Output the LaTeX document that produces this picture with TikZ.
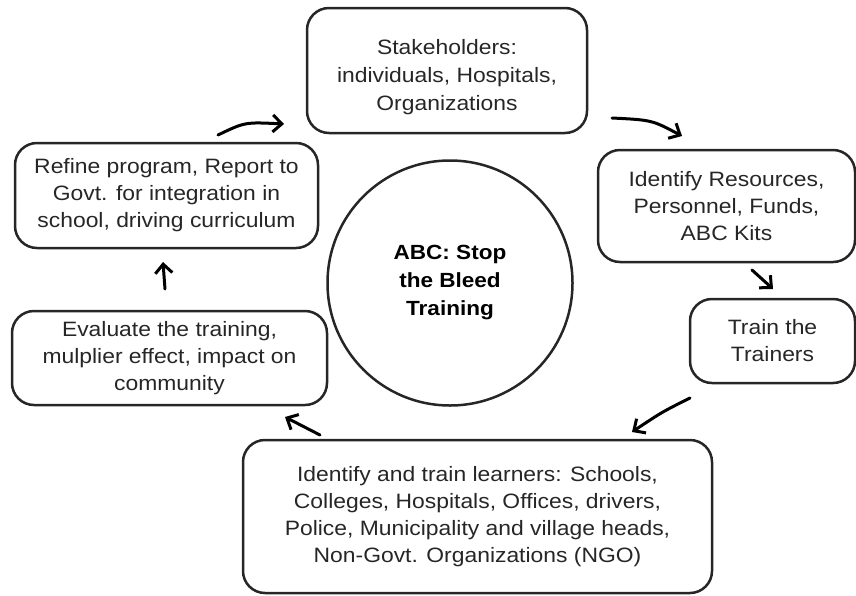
\documentclass[tikz,border=0pt]{standalone}
\usepackage{fontspec}
\setmainfont{Liberation Sans}[FakeStretch=1.1]
\usetikzlibrary{arrows.meta}
\definecolor{ink}{HTML}{262626}
\begin{document}
\begin{tikzpicture}[x=1pt,y=-1pt,
  stage/.style={draw=ink, line width=2.5pt, rounded corners=22pt, align=center,
    text=ink, inner sep=0pt, font=\fontsize{20.8}{27}\selectfont},
  caption/.style={align=center, text=ink, inner sep=0pt,
    font=\fontsize{20.8}{28}\selectfont},
  hub/.style={draw=ink, line width=2.5pt, circle, align=center, text=black,
    font=\bfseries\fontsize{20.5}{28}\selectfont},
  flow/.style={draw=black, line width=3pt, line cap=round,
    -{Straight Barb[length=9pt,width=17pt,line width=3pt]}}]
\useasboundingbox (0,0) rectangle (856,595);

% cycle stages
\node[stage, minimum width=280pt, minimum height=125pt] (stake) at (447,70.5) {};
\node[caption] (staketext) at (447,77.5)
  {Stakeholders:\\individuals, Hospitals,\\Organizations};
\node[stage, minimum width=257pt, minimum height=112pt] (res) at (726.5,206)
  {Identify Resources,\\Personnel, Funds,\\ABC Kits};
\node[stage, minimum width=165pt, minimum height=84pt] (train) at (772.5,341)
  {Train the\\Trainers};
\node[stage, minimum width=469pt, minimum height=153pt] (learn) at (477.5,516.5)
  {Identify and train learners: Schools,\\Colleges, Hospitals, Offices, drivers,\\Police, Municipality and village heads,\\Non-Govt. Organizations (NGO)};
\node[stage, minimum width=315pt, minimum height=94pt] (eval) at (169.5,358)
  {Evaluate the training,\\mulplier effect, impact on\\community};
\node[stage, minimum width=303pt, minimum height=105pt] (refine) at (166.5,195.5)
  {Refine program, Report to\\Govt. for integration in\\school, driving curriculum};

% centre
\node[hub, minimum size=245pt] (core) at (450,283) {ABC: Stop\\the Bleed\\Training};

% arrow end points
\coordinate (r1) at (218,135);  \coordinate (r2) at (284,124);
\coordinate (s1) at (612,118);  \coordinate (s2) at (682,136);
\coordinate (i1) at (752,270);  \coordinate (i2) at (773,289);
\coordinate (t1) at (690,398);  \coordinate (t2) at (632,432);
\coordinate (l1) at (320,435);  \coordinate (l2) at (285,417);
\coordinate (e1) at (165,289);  \coordinate (e2) at (163,262);

\draw[flow] (r1) .. controls (245,122) .. (r2);
\draw[flow] (s1) .. controls (652,120) .. (s2);
\draw[flow] (i1) -- (i2);
\draw[flow] (t1) .. controls (662,412) .. (t2);
\draw[flow] (l1) -- (l2);
\draw[flow] (e1) -- (e2);
\end{tikzpicture}
\end{document}
